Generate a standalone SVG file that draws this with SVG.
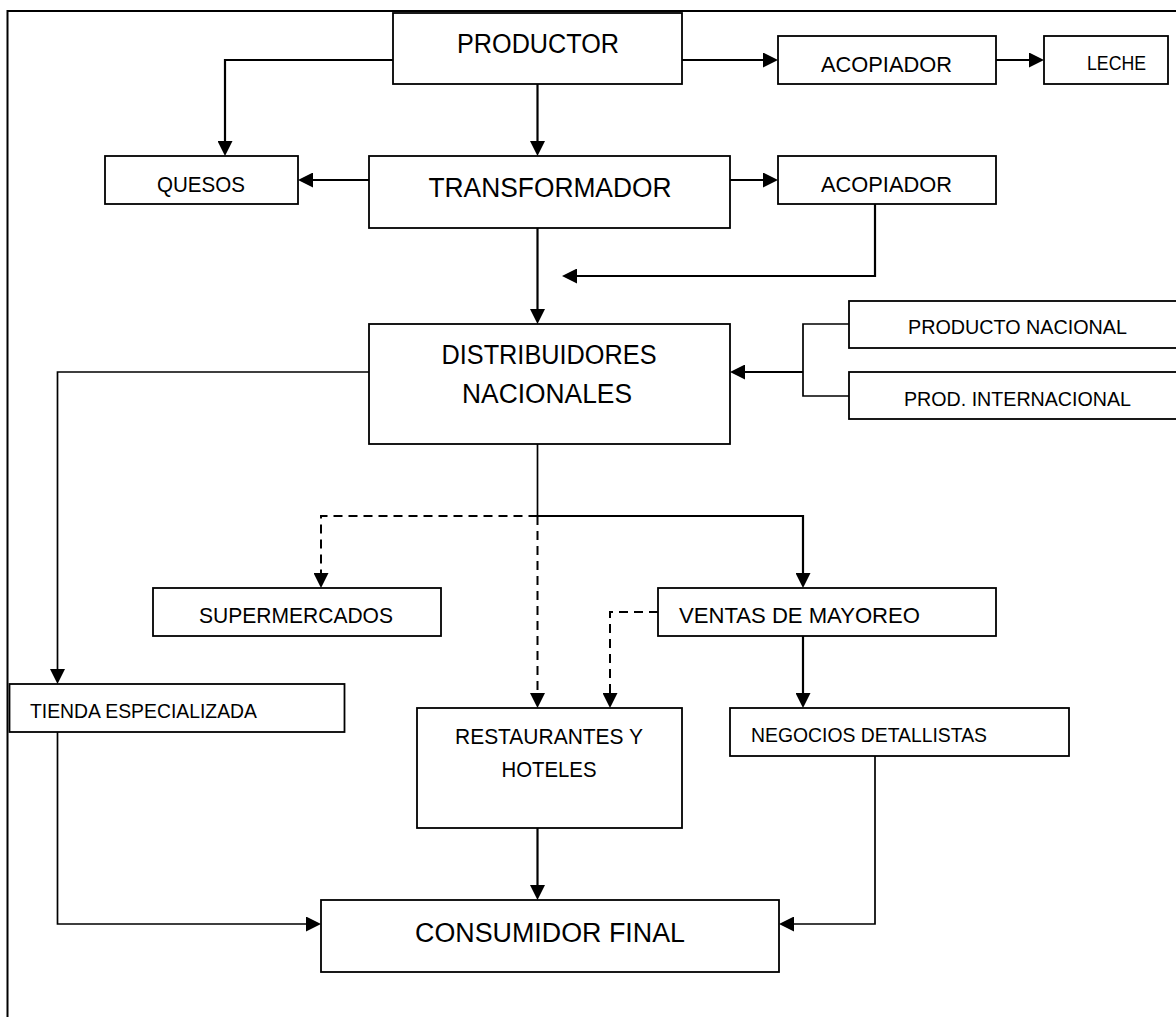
<svg xmlns="http://www.w3.org/2000/svg" width="1176" height="1017" viewBox="0 0 1176 1017">
<style>
  .box { fill: #fff; stroke: #000; stroke-width: 1.8; }
  .lg { font-family: "Liberation Sans", Arial, sans-serif; font-size: 27px; fill: #000; }
  .md { font-family: "Liberation Sans", Arial, sans-serif; font-size: 22px; fill: #000; }
  .sm { font-family: "Liberation Sans", Arial, sans-serif; font-size: 21px; fill: #000; }
  .c { text-anchor: middle; }
  .ln { fill: none; stroke: #000; stroke-width: 2.2; }
  .thin { fill: none; stroke: #000; stroke-width: 1.7; }
  .dash { fill: none; stroke: #000; stroke-width: 2; stroke-dasharray: 9 6; }
  .arr { marker-end: url(#ah); }
</style>
<defs>
  <marker id="ah" markerUnits="userSpaceOnUse" markerWidth="16" markerHeight="15" refX="11" refY="7.5" orient="auto">
    <path d="M0,0 L15,7.5 L0,15 z" fill="#000"/>
  </marker>
</defs>
<rect x="0" y="0" width="1176" height="1017" fill="#fff"/>
<rect id="frame" x="7.5" y="11" width="1200" height="1100" fill="none" stroke="#000" stroke-width="2"/>

<g id="connectors">
  <path class="ln arr" d="M393,60 H225 V152"/>
  <path class="ln arr" d="M537.5,84 V152"/>
  <path class="ln arr" d="M682,60 H774"/>
  <path class="ln arr" d="M996,60 H1040"/>
  <path class="ln arr" d="M369,180 H302"/>
  <path class="ln arr" d="M730,180 H774"/>
  <path class="ln arr" d="M875,204 V276 H566"/>
  <path class="ln arr" d="M537.5,228 V320"/>
  <path class="thin" d="M849,324 H803 V396 H849"/>
  <path class="ln arr" d="M803,372 H734"/>
  <path class="thin arr" d="M369,372 H57.5 V680"/>
  <path class="thin" d="M537.5,444 V516"/>
  <path class="ln arr" d="M537.5,516 H803 V584"/>
  <path class="dash arr" d="M537.5,516 H321 V584"/>
  <path class="dash arr" d="M537.5,516 V704"/>
  <path class="dash arr" d="M658,612 H610 V704"/>
  <path class="ln arr" d="M803,636 V704"/>
  <path class="ln arr" d="M537.5,828 V896"/>
  <path class="thin arr" d="M57.5,732 V924 H317"/>
  <path class="thin arr" d="M875,756 V924 H783"/>
</g>

<g id="productor">
  <rect class="box" x="393" y="13" width="289" height="71"/>
  <text class="lg c" x="538" y="53" textLength="162" lengthAdjust="spacingAndGlyphs">PRODUCTOR</text>
</g>
<g id="acopiador1">
  <rect class="box" x="778" y="36" width="218" height="48"/>
  <text class="md c" x="886.5" y="71.5" textLength="131" lengthAdjust="spacingAndGlyphs">ACOPIADOR</text>
</g>
<g id="leche">
  <rect class="box" x="1044" y="36" width="124" height="48"/>
  <text class="sm c" x="1116.5" y="70" textLength="59" lengthAdjust="spacingAndGlyphs">LECHE</text>
</g>
<g id="quesos">
  <rect class="box" x="105" y="156" width="193" height="48"/>
  <text class="md c" x="201" y="192" textLength="88" lengthAdjust="spacingAndGlyphs">QUESOS</text>
</g>
<g id="transformador">
  <rect class="box" x="369" y="156" width="361" height="72"/>
  <text class="lg c" x="550" y="197" textLength="243" lengthAdjust="spacingAndGlyphs">TRANSFORMADOR</text>
</g>
<g id="acopiador2">
  <rect class="box" x="778" y="156" width="218" height="48"/>
  <text class="md c" x="886.5" y="192" textLength="131" lengthAdjust="spacingAndGlyphs">ACOPIADOR</text>
</g>
<g id="distribuidores">
  <rect class="box" x="369" y="324" width="361" height="120"/>
  <text class="lg c" x="549" y="364" textLength="215" lengthAdjust="spacingAndGlyphs">DISTRIBUIDORES</text>
  <text class="lg c" x="547" y="403" textLength="170" lengthAdjust="spacingAndGlyphs">NACIONALES</text>
</g>
<g id="producto-nacional">
  <rect class="box" x="849" y="301" width="340" height="47"/>
  <text class="sm c" x="1017.5" y="334" textLength="219" lengthAdjust="spacingAndGlyphs">PRODUCTO NACIONAL</text>
</g>
<g id="prod-internacional">
  <rect class="box" x="849" y="372" width="340" height="47"/>
  <text class="sm c" x="1017.5" y="406" textLength="227" lengthAdjust="spacingAndGlyphs">PROD. INTERNACIONAL</text>
</g>
<g id="supermercados">
  <rect class="box" x="153" y="588" width="288" height="48"/>
  <text class="md c" x="296" y="623" textLength="194" lengthAdjust="spacingAndGlyphs">SUPERMERCADOS</text>
</g>
<g id="ventas-mayoreo">
  <rect class="box" x="658" y="588" width="338" height="48"/>
  <text class="md" x="679" y="623" textLength="241" lengthAdjust="spacingAndGlyphs">VENTAS DE MAYOREO</text>
</g>
<g id="tienda-especializada">
  <rect class="box" x="9.5" y="684" width="335" height="48"/>
  <text class="sm" x="30" y="717.5" textLength="227" lengthAdjust="spacingAndGlyphs">TIENDA ESPECIALIZADA</text>
</g>
<g id="restaurantes-hoteles">
  <rect class="box" x="417" y="708" width="265" height="120"/>
  <text class="md c" x="549" y="744" textLength="188" lengthAdjust="spacingAndGlyphs">RESTAURANTES Y</text>
  <text class="md c" x="549" y="776.5" textLength="95" lengthAdjust="spacingAndGlyphs">HOTELES</text>
</g>
<g id="negocios-detallistas">
  <rect class="box" x="730" y="708" width="339" height="48"/>
  <text class="sm" x="751" y="742" textLength="236" lengthAdjust="spacingAndGlyphs">NEGOCIOS DETALLISTAS</text>
</g>
<g id="consumidor-final">
  <rect class="box" x="321" y="900" width="458" height="72"/>
  <text class="lg c" x="550" y="941.5" textLength="270" lengthAdjust="spacingAndGlyphs">CONSUMIDOR FINAL</text>
</g>
</svg>
